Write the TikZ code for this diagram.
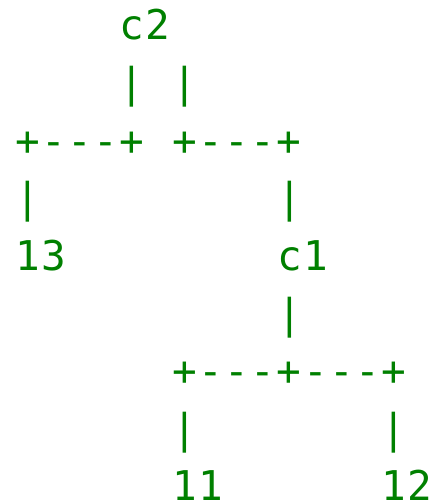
\documentclass[tikz,border=0pt]{standalone}
\usepackage{fontspec}
\usepackage{tikz}

\newfontfamily\asciifont{DejaVu Sans Mono}[LetterSpace=3.7]
\definecolor{treegreen}{RGB}{0,128,0}

\begin{document}
\begin{tikzpicture}[
    x=26.2pt,
    y=-57.6pt,
    glyph/.style={
        anchor=base west,
        inner sep=0pt,
        outer sep=0pt,
        text=treegreen,
        font=\asciifont\fontsize{41}{49}\selectfont
    }
]
\useasboundingbox (-15pt,40pt) rectangle (421pt,-463pt);

\node[glyph] (c2) at (4,0) {c2};
\node[glyph] (c2left) at (4,1) {|};
\node[glyph] (c2right) at (6,1) {|};

\node[glyph] (split13) at (0,2) {+---+};
\node[glyph] (splitc1) at (6,2) {+---+};
\node[glyph] (bar13) at (0,3) {|};
\node[glyph] (barc1) at (10,3) {|};

\node[glyph] (n13) at (0,4) {13};
\node[glyph] (c1) at (10,4) {c1};
\node[glyph] (c1down) at (10,5) {|};

\node[glyph] (splitleaves) at (6,6) {+---+---+};
\node[glyph] (bar11) at (6,7) {|};
\node[glyph] (bar12) at (14,7) {|};

\node[glyph] (n11) at (6,8) {11};
\node[glyph] (n12) at (14,8) {12};

\end{tikzpicture}
\end{document}
